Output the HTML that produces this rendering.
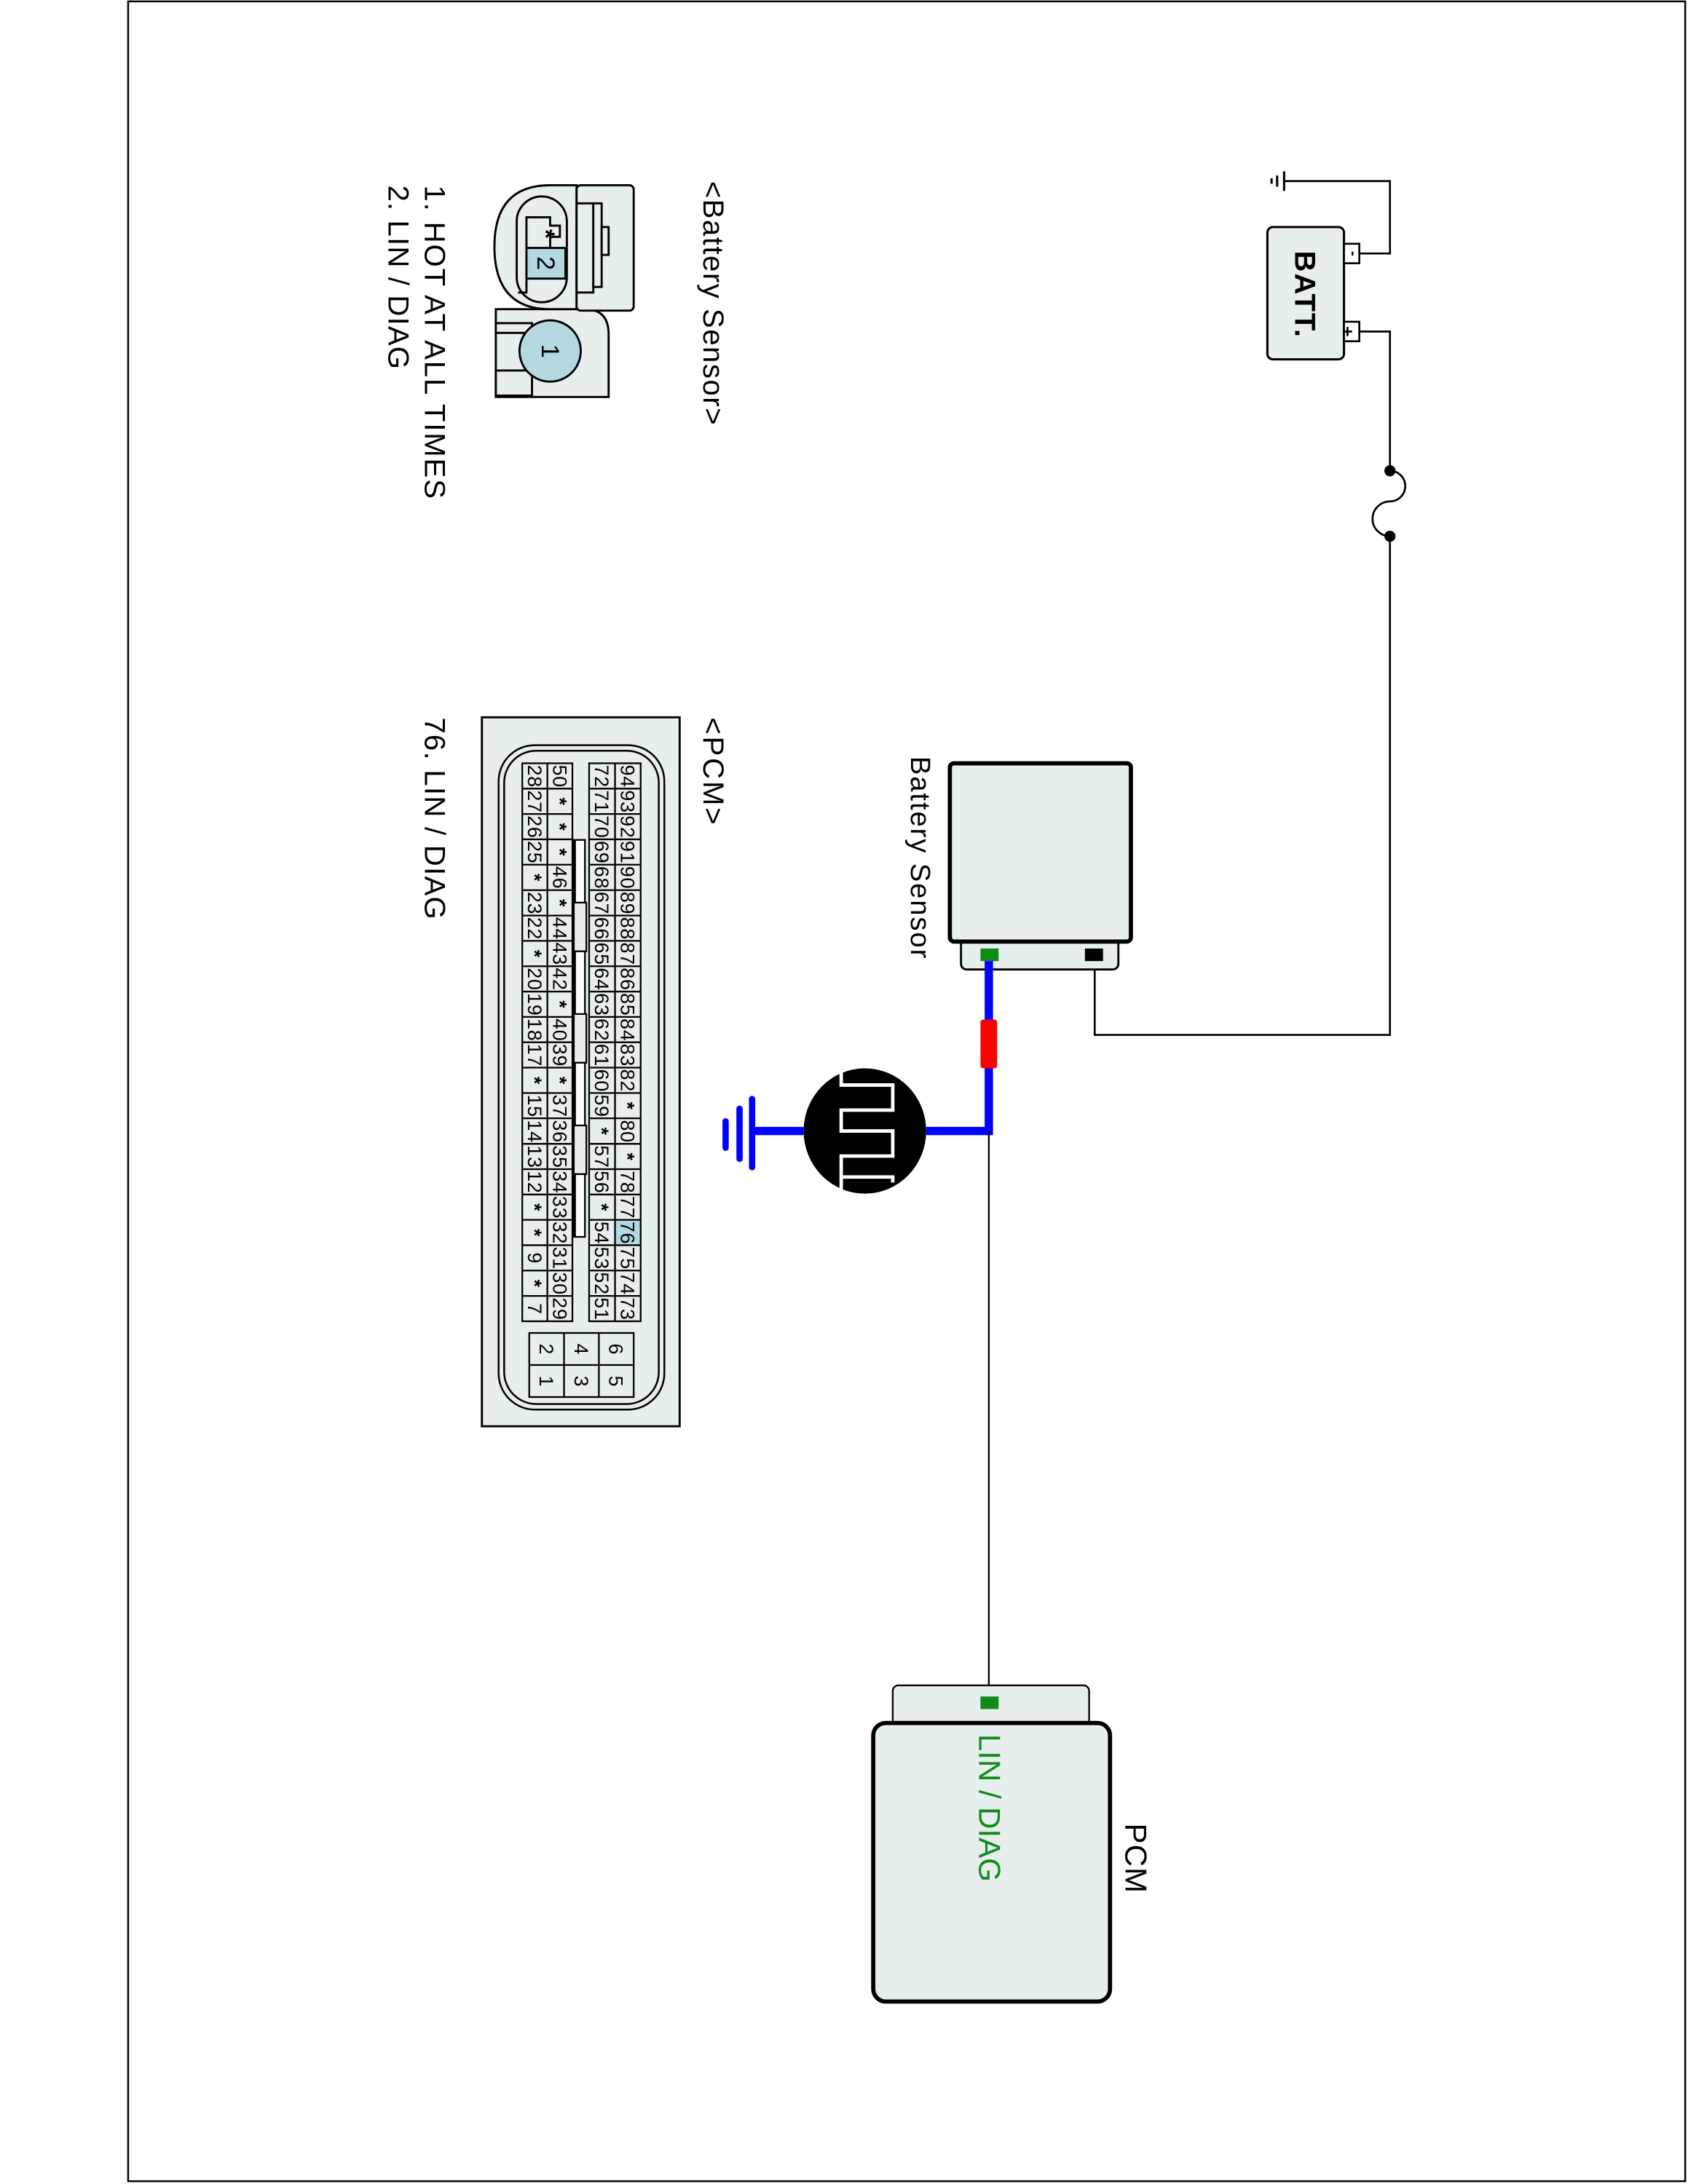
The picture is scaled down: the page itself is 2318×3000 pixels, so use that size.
<!DOCTYPE html>
<html><head><meta charset="utf-8"><style>
html,body{margin:0;padding:0;background:#fff}
svg{display:block}
text{font-family:"Liberation Sans",Arial,sans-serif}
.n{font-size:14px;text-anchor:middle}
</style></head><body>
<svg width="2318" height="3000" viewBox="0 0 1212 1568" preserveAspectRatio="none" xmlns="http://www.w3.org/2000/svg" font-family="Liberation Sans, Arial, sans-serif">
<rect x="92" y="1" width="1118" height="1565" fill="none" stroke="#000" stroke-width="1.3"/>

<!-- Battery -->
<rect x="910" y="163" width="55" height="95" rx="4" fill="#e6eeee" stroke="#000" stroke-width="1.6"/>
<text transform="translate(930,180) rotate(90)" font-size="21" font-weight="bold" textLength="62">BATT.</text>
<rect x="965" y="175" width="11" height="14" fill="#fff" stroke="#000" stroke-width="1.4"/>
<text transform="translate(968,182) rotate(90)" font-size="11" text-anchor="middle" font-weight="bold">-</text>
<rect x="965" y="231" width="11" height="14" fill="#fff" stroke="#000" stroke-width="1.4"/>
<text transform="translate(967,238) rotate(90)" font-size="13" text-anchor="middle" dy="4" font-weight="bold">+</text>
<path d="M976 182 H998 V130 H922" fill="none" stroke="#000" stroke-width="1.4"/>
<path d="M922 123 V137 M917 126 V134 M913 128 V132" stroke="#000" stroke-width="1.6"/>
<path d="M976 238 H998 V338" fill="none" stroke="#000" stroke-width="1.4"/>
<path d="M998 338 A11 11 0 0 1 998 360 A12 12 0 0 0 998 385" fill="none" stroke="#000" stroke-width="1.4"/>
<circle cx="998" cy="338" r="4" fill="#000"/>
<circle cx="998" cy="385" r="4" fill="#000"/>
<path d="M998 385 V743 H786 V688" fill="none" stroke="#000" stroke-width="1.4"/>

<!-- Battery Sensor component -->
<rect x="690" y="668" width="113" height="28" rx="4" fill="#e6eeee" stroke="#000" stroke-width="1.5"/>
<rect x="682" y="548" width="130" height="128" rx="3" fill="#e6eeee" stroke="#000" stroke-width="3"/>
<rect x="704" y="681" width="13" height="9" fill="#108a18"/>
<rect x="779" y="681" width="13" height="9" fill="#000"/>
<text transform="translate(654,543) rotate(90)" font-size="20" textLength="145">Battery Sensor</text>

<path d="M710 690 V812 H665" fill="none" stroke="#0000ff" stroke-width="6"/>
<rect x="704" y="732" width="12" height="35" rx="2" fill="#ff0000"/>
<path d="M577 812 H540" stroke="#0000ff" stroke-width="6"/>
<path d="M540 789 V838 M531 796 V832 M521 805 V824" stroke="#0000ff" stroke-width="4.5" stroke-linecap="round"/>
<ellipse cx="621" cy="812" rx="44" ry="45" fill="#000"/>
<path d="M604 768 V779 H641 V797 H604 V812 H641 V830 H604 V845 H641 V849 M604 845 V857" fill="none" stroke="#fff" stroke-width="2.5"/>
<path d="M710 812 V1222" stroke="#000" stroke-width="1.2"/>

<!-- PCM component -->
<rect x="641" y="1210" width="141" height="30" rx="4" fill="#e6eeee" stroke="#000" stroke-width="1.2"/>
<rect x="627" y="1237" width="170" height="200" rx="9" fill="#e6eeee" stroke="#000" stroke-width="3"/>
<rect x="704" y="1218" width="13" height="9" fill="#108a18"/>
<text transform="translate(703,1245) rotate(90)" font-size="22" fill="#108a18" textLength="106">LIN / DIAG</text>
<text transform="translate(808,1309) rotate(90)" font-size="22" textLength="50">PCM</text>

<!-- Legend texts -->
<text transform="translate(505,130) rotate(90)" font-size="21" textLength="175">&lt;Battery Sensor&gt;</text>
<text transform="translate(305,133) rotate(90)" font-size="21" textLength="225">1. HOT AT ALL TIMES</text>
<text transform="translate(279,133) rotate(90)" font-size="21" textLength="132">2. LIN / DIAG</text>
<text transform="translate(505,515) rotate(90)" font-size="21" textLength="77">&lt;PCM&gt;</text>
<text transform="translate(305,515) rotate(90)" font-size="21" textLength="145">76. LIN / DIAG</text>

<!-- Battery sensor connector drawing -->
<g stroke="#000" stroke-width="1.5" fill="#e6eeee">
<path d="M356 222 H420 Q437 222 437 240 V285 H356 Z"/>
<path d="M414 133 H395 Q355 133 355 177 Q355 222 395 222 H414 Z"/>
<rect x="414" y="133" width="41" height="90" rx="3"/>
<rect x="414" y="146" width="12" height="64" fill="#e6eeee"/>
<rect x="426" y="146" width="6" height="60"/>
<rect x="432" y="163" width="5" height="20"/>
<rect x="371" y="141" width="36" height="76" rx="18"/>
<path d="M378 178 H406 V200 H378 Z" fill="#b4d8e0"/>
<path d="M378 200 V210 H372 M378 178 V156 H395 V162 H402 V170 H395 V178" fill="none"/>
<rect x="356" y="232" width="26" height="7" fill="#e6eeee"/>
<rect x="356" y="266" width="26" height="18" fill="#e6eeee"/>
<circle cx="395" cy="252" r="22" fill="#b4d8e0"/>
</g>
<text transform="translate(392,168) rotate(90)" font-size="18" text-anchor="middle" dy="6" font-weight="bold">*</text>
<text transform="translate(392,189) rotate(90)" font-size="18" text-anchor="middle" dy="6">2</text>
<text transform="translate(395,252) rotate(90)" font-size="18" text-anchor="middle" dy="6">1</text>

<!-- PCM connector drawing -->
<rect x="346" y="515" width="142" height="509" fill="#e6eeee" stroke="#000" stroke-width="1.5"/>
<rect x="358" y="535" width="119" height="477" rx="26" fill="none" stroke="#000" stroke-width="1.3"/>
<rect x="362" y="539" width="111" height="469" rx="23" fill="none" stroke="#000" stroke-width="1.3"/>
<rect x="441.6" y="875.8" width="18.4" height="18.2" fill="#b4d8e0"/>
<g fill="none" stroke="#000" stroke-width="1.2">
<rect x="423" y="548" width="37" height="400.6"/><path d="M441.6 548 V948.6"/>
<rect x="375" y="548" width="36" height="400.6"/><path d="M393 548 V948.6"/>
<path d="M375 566.2H411M375 584.4H411M375 602.6H411M375 620.8H411M375 639.1H411M375 657.3H411M375 675.5H411M375 693.7H411M375 711.9H411M375 730.1H411M375 748.3H411M375 766.5H411M375 784.7H411M375 802.9H411M375 821.2H411M375 839.4H411M375 857.6H411M375 875.8H411M375 894H411M375 912.2H411M375 930.4H411"/>
<path d="M423 566.2H460M423 584.4H460M423 602.6H460M423 620.8H460M423 639.1H460M423 657.3H460M423 675.5H460M423 693.7H460M423 711.9H460M423 730.1H460M423 748.3H460M423 766.5H460M423 784.7H460M423 802.9H460M423 821.2H460M423 839.4H460M423 857.6H460M423 875.8H460M423 894H460M423 912.2H460M423 930.4H460"/>
<rect x="412" y="648" width="9" height="35"/><rect x="412" y="728" width="9" height="35"/><rect x="412" y="808" width="9" height="35"/>
</g>
<g fill="#fff" stroke="#000" stroke-width="1.2">
<rect x="412" y="603" width="8" height="45"/><rect x="412" y="683" width="8" height="45"/>
<rect x="412" y="763" width="8" height="45"/><rect x="412" y="843" width="8" height="45"/>
</g>
<path d="M412 603V648M412 683V728M412 763V808M412 843V888" stroke="#000" stroke-width="3"/>
<rect x="380" y="957" width="75" height="46" fill="none" stroke="#000" stroke-width="1.2"/>
<path d="M405 957V1003M430 957V1003M380 980H455" stroke="#000" stroke-width="1.2"/>

<g class="n">
<g transform="translate(450.8,0)">
<text transform="translate(0,557.1) rotate(90)" dy="5" textLength="16">94</text>
<text transform="translate(0,575.3) rotate(90)" dy="5" textLength="16">93</text>
<text transform="translate(0,593.5) rotate(90)" dy="5" textLength="16">92</text>
<text transform="translate(0,611.7) rotate(90)" dy="5" textLength="16">91</text>
<text transform="translate(0,629.9) rotate(90)" dy="5" textLength="16">90</text>
<text transform="translate(0,648.2) rotate(90)" dy="5" textLength="16">89</text>
<text transform="translate(0,666.4) rotate(90)" dy="5" textLength="16">88</text>
<text transform="translate(0,684.6) rotate(90)" dy="5" textLength="16">87</text>
<text transform="translate(0,702.8) rotate(90)" dy="5" textLength="16">86</text>
<text transform="translate(0,721.0) rotate(90)" dy="5" textLength="16">85</text>
<text transform="translate(0,739.2) rotate(90)" dy="5" textLength="16">84</text>
<text transform="translate(0,757.4) rotate(90)" dy="5" textLength="16">83</text>
<text transform="translate(0,775.6) rotate(90)" dy="5" textLength="16">82</text>
<text transform="translate(0,793.8) rotate(90)" dy="5" font-weight="bold">*</text>
<text transform="translate(0,812.1) rotate(90)" dy="5" textLength="16">80</text>
<text transform="translate(0,830.3) rotate(90)" dy="5" font-weight="bold">*</text>
<text transform="translate(0,848.5) rotate(90)" dy="5" textLength="16">78</text>
<text transform="translate(0,866.7) rotate(90)" dy="5" textLength="16">77</text>
<text transform="translate(0,884.9) rotate(90)" dy="5" textLength="16">76</text>
<text transform="translate(0,903.1) rotate(90)" dy="5" textLength="16">75</text>
<text transform="translate(0,921.3) rotate(90)" dy="5" textLength="16">74</text>
<text transform="translate(0,939.5) rotate(90)" dy="5" textLength="16">73</text>
</g>
<g transform="translate(432.3,0)">
<text transform="translate(0,557.1) rotate(90)" dy="5" textLength="16">72</text>
<text transform="translate(0,575.3) rotate(90)" dy="5" textLength="16">71</text>
<text transform="translate(0,593.5) rotate(90)" dy="5" textLength="16">70</text>
<text transform="translate(0,611.7) rotate(90)" dy="5" textLength="16">69</text>
<text transform="translate(0,629.9) rotate(90)" dy="5" textLength="16">68</text>
<text transform="translate(0,648.2) rotate(90)" dy="5" textLength="16">67</text>
<text transform="translate(0,666.4) rotate(90)" dy="5" textLength="16">66</text>
<text transform="translate(0,684.6) rotate(90)" dy="5" textLength="16">65</text>
<text transform="translate(0,702.8) rotate(90)" dy="5" textLength="16">64</text>
<text transform="translate(0,721.0) rotate(90)" dy="5" textLength="16">63</text>
<text transform="translate(0,739.2) rotate(90)" dy="5" textLength="16">62</text>
<text transform="translate(0,757.4) rotate(90)" dy="5" textLength="16">61</text>
<text transform="translate(0,775.6) rotate(90)" dy="5" textLength="16">60</text>
<text transform="translate(0,793.8) rotate(90)" dy="5" textLength="16">59</text>
<text transform="translate(0,812.1) rotate(90)" dy="5" font-weight="bold">*</text>
<text transform="translate(0,830.3) rotate(90)" dy="5" textLength="16">57</text>
<text transform="translate(0,848.5) rotate(90)" dy="5" textLength="16">56</text>
<text transform="translate(0,866.7) rotate(90)" dy="5" font-weight="bold">*</text>
<text transform="translate(0,884.9) rotate(90)" dy="5" textLength="16">54</text>
<text transform="translate(0,903.1) rotate(90)" dy="5" textLength="16">53</text>
<text transform="translate(0,921.3) rotate(90)" dy="5" textLength="16">52</text>
<text transform="translate(0,939.5) rotate(90)" dy="5" textLength="16">51</text>
</g>
<g transform="translate(402,0)">
<text transform="translate(0,557.1) rotate(90)" dy="5" textLength="16">50</text>
<text transform="translate(0,575.3) rotate(90)" dy="5" font-weight="bold">*</text>
<text transform="translate(0,593.5) rotate(90)" dy="5" font-weight="bold">*</text>
<text transform="translate(0,611.7) rotate(90)" dy="5" font-weight="bold">*</text>
<text transform="translate(0,629.9) rotate(90)" dy="5" textLength="16">46</text>
<text transform="translate(0,648.2) rotate(90)" dy="5" font-weight="bold">*</text>
<text transform="translate(0,666.4) rotate(90)" dy="5" textLength="16">44</text>
<text transform="translate(0,684.6) rotate(90)" dy="5" textLength="16">43</text>
<text transform="translate(0,702.8) rotate(90)" dy="5" textLength="16">42</text>
<text transform="translate(0,721.0) rotate(90)" dy="5" font-weight="bold">*</text>
<text transform="translate(0,739.2) rotate(90)" dy="5" textLength="16">40</text>
<text transform="translate(0,757.4) rotate(90)" dy="5" textLength="16">39</text>
<text transform="translate(0,775.6) rotate(90)" dy="5" font-weight="bold">*</text>
<text transform="translate(0,793.8) rotate(90)" dy="5" textLength="16">37</text>
<text transform="translate(0,812.1) rotate(90)" dy="5" textLength="16">36</text>
<text transform="translate(0,830.3) rotate(90)" dy="5" textLength="16">35</text>
<text transform="translate(0,848.5) rotate(90)" dy="5" textLength="16">34</text>
<text transform="translate(0,866.7) rotate(90)" dy="5" textLength="16">33</text>
<text transform="translate(0,884.9) rotate(90)" dy="5" textLength="16">32</text>
<text transform="translate(0,903.1) rotate(90)" dy="5" textLength="16">31</text>
<text transform="translate(0,921.3) rotate(90)" dy="5" textLength="16">30</text>
<text transform="translate(0,939.5) rotate(90)" dy="5" textLength="16">29</text>
</g>
<g transform="translate(384,0)">
<text transform="translate(0,557.1) rotate(90)" dy="5" textLength="16">28</text>
<text transform="translate(0,575.3) rotate(90)" dy="5" textLength="16">27</text>
<text transform="translate(0,593.5) rotate(90)" dy="5" textLength="16">26</text>
<text transform="translate(0,611.7) rotate(90)" dy="5" textLength="16">25</text>
<text transform="translate(0,629.9) rotate(90)" dy="5" font-weight="bold">*</text>
<text transform="translate(0,648.2) rotate(90)" dy="5" textLength="16">23</text>
<text transform="translate(0,666.4) rotate(90)" dy="5" textLength="16">22</text>
<text transform="translate(0,684.6) rotate(90)" dy="5" font-weight="bold">*</text>
<text transform="translate(0,702.8) rotate(90)" dy="5" textLength="16">20</text>
<text transform="translate(0,721.0) rotate(90)" dy="5" textLength="16">19</text>
<text transform="translate(0,739.2) rotate(90)" dy="5" textLength="16">18</text>
<text transform="translate(0,757.4) rotate(90)" dy="5" textLength="16">17</text>
<text transform="translate(0,775.6) rotate(90)" dy="5" font-weight="bold">*</text>
<text transform="translate(0,793.8) rotate(90)" dy="5" textLength="16">15</text>
<text transform="translate(0,812.1) rotate(90)" dy="5" textLength="16">14</text>
<text transform="translate(0,830.3) rotate(90)" dy="5" textLength="16">13</text>
<text transform="translate(0,848.5) rotate(90)" dy="5" textLength="16">12</text>
<text transform="translate(0,866.7) rotate(90)" dy="5" font-weight="bold">*</text>
<text transform="translate(0,884.9) rotate(90)" dy="5" font-weight="bold">*</text>
<text transform="translate(0,903.1) rotate(90)" dy="5">9</text>
<text transform="translate(0,921.3) rotate(90)" dy="5" font-weight="bold">*</text>
<text transform="translate(0,939.5) rotate(90)" dy="5">7</text>
</g>
<text transform="translate(442.5,968.5) rotate(90)" dy="5">6</text>
<text transform="translate(442.5,991.5) rotate(90)" dy="5">5</text>
<text transform="translate(417.5,968.5) rotate(90)" dy="5">4</text>
<text transform="translate(417.5,991.5) rotate(90)" dy="5">3</text>
<text transform="translate(392.5,968.5) rotate(90)" dy="5">2</text>
<text transform="translate(392.5,991.5) rotate(90)" dy="5">1</text>
</g>
</svg>
</body></html>
